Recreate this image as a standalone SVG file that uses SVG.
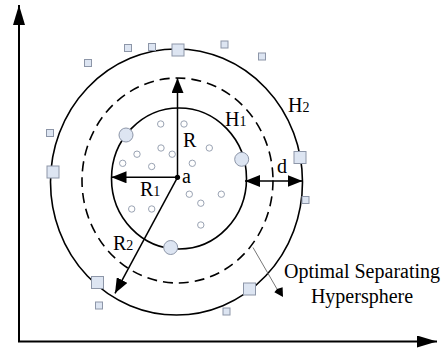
<svg xmlns="http://www.w3.org/2000/svg" width="443" height="349" viewBox="0 0 443 349">
<style>
.bg{fill:#fff}
.ring{fill:none;stroke:#000;stroke-width:1.6}
.dash{fill:none;stroke:#000;stroke-width:1.6;stroke-dasharray:10 6}
.ax{stroke:#000;stroke-width:2;fill:none}
.arr{stroke:#000;stroke-width:1.5;fill:none}
.thin{stroke:#777;stroke-width:1;fill:none}
.sq{fill:#dde5f2;stroke:#8d96a8;stroke-width:1}
.pt{fill:#fff;stroke:#9aa3b3;stroke-width:1}
.bc{fill:#dde5f2;stroke:#8d96a8;stroke-width:1}
text{font-family:"Liberation Serif","Times New Roman",serif;font-size:20px;fill:#000}
.sub{font-size:14px}
</style>
<defs>
<marker id="ah" viewBox="0 0 15 12" refX="15" refY="6" markerWidth="15" markerHeight="12" orient="auto-start-reverse" markerUnits="userSpaceOnUse"><path d="M0,0 L15,6 L0,12 z" fill="#000"/></marker>
<marker id="axh" viewBox="0 0 20 12" refX="20" refY="6" markerWidth="20" markerHeight="12" orient="auto" markerUnits="userSpaceOnUse"><path d="M0,0 L20,6 L0,12 z" fill="#000"/></marker>
</defs>
<rect class="bg" x="0" y="0" width="443" height="349"/>
<g id="axes">
<path class="ax" d="M19,341.5 L19,5" marker-end="url(#axh)"/>
<path class="ax" d="M18,341.5 L437,341.5" marker-end="url(#axh)"/>
</g>
<g id="outer-H2">
<ellipse class="ring" cx="176.5" cy="182" rx="126" ry="133"/>
<text x="288" y="112">H<tspan class="sub">2</tspan></text>
</g>
<g id="optimal-hypersphere">
<ellipse class="dash" cx="177.5" cy="180.5" rx="95.5" ry="102.5"/>
</g>
<g id="inner-H1">
<ellipse class="ring" cx="179" cy="178.5" rx="67.5" ry="70.5"/>
<text x="225" y="126">H<tspan class="sub">1</tspan></text>
</g>
<g id="outliers">
<rect class="sq" x="124.5" y="44.5" width="7" height="7"/>
<rect class="sq" x="148.5" y="43.5" width="7" height="7"/>
<rect class="sq" x="172" y="44" width="12" height="12"/>
<rect class="sq" x="84.5" y="59.5" width="7" height="7"/>
<rect class="sq" x="221" y="41" width="7" height="7"/>
<rect class="sq" x="258.5" y="53" width="7" height="7"/>
<rect class="sq" x="46.5" y="129.5" width="7" height="7"/>
<rect class="sq" x="47" y="166" width="12" height="12"/>
<rect class="sq" x="294" y="151.5" width="12" height="12"/>
<rect class="sq" x="302" y="196.5" width="7" height="7"/>
<rect class="sq" x="91.5" y="276.5" width="12" height="12"/>
<rect class="sq" x="95.5" y="302" width="7" height="7"/>
<rect class="sq" x="243.5" y="283" width="12" height="12"/>
<rect class="sq" x="223" y="308" width="7" height="7"/>
</g>
<g id="support-vectors">
<circle class="bc" cx="126" cy="135" r="7"/>
<circle class="bc" cx="241.7" cy="159.3" r="7"/>
<circle class="bc" cx="170.7" cy="247.5" r="7"/>
</g>
<g id="targets">
<circle class="pt" cx="160.7" cy="124" r="3.2"/>
<circle class="pt" cx="184" cy="124" r="3.2"/>
<circle class="pt" cx="209.3" cy="148" r="3.2"/>
<circle class="pt" cx="137" cy="154.2" r="3.2"/>
<circle class="pt" cx="161" cy="148" r="3.2"/>
<circle class="pt" cx="172.2" cy="154.2" r="3.2"/>
<circle class="pt" cx="122.7" cy="163.3" r="3.2"/>
<circle class="pt" cx="151.7" cy="166.5" r="3.2"/>
<circle class="pt" cx="192.3" cy="163.3" r="3.2"/>
<circle class="pt" cx="189.3" cy="194.2" r="3.2"/>
<circle class="pt" cx="221.3" cy="194.2" r="3.2"/>
<circle class="pt" cx="200.8" cy="203.2" r="3.2"/>
<circle class="pt" cx="131.7" cy="209" r="3.2"/>
<circle class="pt" cx="151.7" cy="209" r="3.2"/>
<circle class="pt" cx="200.8" cy="225" r="3.2"/>
</g>
<g id="center-a">
<circle cx="177.5" cy="177.3" r="2.6" fill="#000"/>
<text x="182" y="183">a</text>
</g>
<g id="connectors">
<path class="arr" d="M177.5,177.3 L177.5,78" marker-end="url(#ah)"/>
<path class="arr" d="M177.5,177.3 L111.5,177.3" marker-end="url(#ah)"/>
<path class="arr" d="M177.5,177.3 L115,293.3" marker-end="url(#ah)"/>
<path class="arr" d="M245,181 L302.5,181" marker-start="url(#ah)" marker-end="url(#ah)"/>
<path class="thin" d="M253,247.5 L277,289"/>
<path d="M277,289 L274.4,292.2 L283,297 L282.6,287.2 z" fill="#000"/>
</g>
<g id="labels">
<text x="183" y="147">R</text>
<text x="140" y="196">R<tspan class="sub">1</tspan></text>
<text x="113" y="250">R<tspan class="sub">2</tspan></text>
<text x="277" y="173">d</text>
<text x="362" y="278" text-anchor="middle">Optimal Separating</text>
<text x="362" y="303" text-anchor="middle">Hypersphere</text>
</g>
</svg>
